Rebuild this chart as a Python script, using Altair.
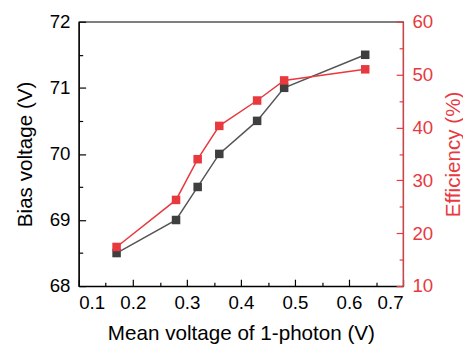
import altair as alt
import pandas as pd

mean_voltage = [0.17, 0.28, 0.32, 0.36, 0.43, 0.48, 0.63]
bias_voltage = [68.5, 69.0, 69.5, 70.0, 70.5, 71.0, 71.5]
efficiency = [17.4, 26.3, 34.0, 40.3, 45.1, 48.9, 51.0]

x_major = [0.1, 0.2, 0.3, 0.4, 0.5, 0.6, 0.7]
x_minor = [0.15, 0.25, 0.35, 0.45, 0.55, 0.65]
yl_major = [68, 69, 70, 71, 72]
yl_minor = [68.5, 69.5, 70.5, 71.5]
yr_major = [10, 20, 30, 40, 50, 60]
yr_minor = [15, 25, 35, 45, 55]

df = pd.DataFrame({"x": mean_voltage, "bias": bias_voltage, "eff": efficiency})

GRAY = "#3f3f3f"
GRAYLINE = "#555555"
RED = "#e8393f"
FONT = "Liberation Sans"

xs = alt.Scale(domain=[0.1, 0.7], nice=False, zero=False)
yls = alt.Scale(domain=[68, 72], nice=False, zero=False)
yrs = alt.Scale(domain=[10, 60], nice=False, zero=False)

base = alt.Chart(df)

x_main = alt.X("x:Q", scale=xs, axis=alt.Axis(
    orient="bottom", values=x_major, format=".1f", ticks=False, grid=False,
    domain=True, domainColor="#000000", domainWidth=1.2,
    labelFont=FONT, labelFontSize=19, labelColor="#000000", labelPadding=8,
    title="Mean voltage of 1-photon (V)", titleFont=FONT, titleFontSize=21,
    titleFontWeight="normal", titleColor="#000000", titlePadding=10))

yl_main = alt.Y("bias:Q", scale=yls, axis=alt.Axis(
    orient="left", values=yl_major, format="d", ticks=False, grid=False,
    domain=True, domainColor="#000000", domainWidth=1.2,
    labelFont=FONT, labelFontSize=19, labelColor="#000000", labelPadding=9,
    title="Bias voltage (V)", titleFont=FONT, titleFontSize=21,
    titleFontWeight="normal", titleColor="#000000", titlePadding=14))

gray_line = base.mark_line(color=GRAYLINE, strokeWidth=1.5).encode(x=x_main, y=yl_main)
gray_pts = base.mark_point(shape="square", filled=True, size=75, color=GRAY, opacity=1).encode(
    x=alt.X("x:Q", scale=xs, axis=None), y=alt.Y("bias:Q", scale=yls, axis=None))

yr_main = alt.Y("eff:Q", scale=yrs, axis=alt.Axis(
    orient="right", values=yr_major, format="d", ticks=False, grid=False,
    domain=True, domainColor=RED, domainWidth=1.2,
    labelFont=FONT, labelFontSize=19, labelColor=RED, labelPadding=9,
    title="Efficiency (%)", titleFont=FONT, titleFontSize=21, titleAngle=270,
    titleBaseline="top",
    titleFontWeight="normal", titleColor=RED, titlePadding=10))

red_line = base.mark_line(color=RED, strokeWidth=1.5).encode(
    x=alt.X("x:Q", scale=xs, axis=None), y=yr_main)
red_pts = base.mark_point(shape="square", filled=True, size=75, color=RED, opacity=1).encode(
    x=alt.X("x:Q", scale=xs, axis=None), y=alt.Y("eff:Q", scale=yrs, axis=None))


def tick_axis(orient, values, size, color):
    return alt.Axis(orient=orient, values=values, ticks=True, tickSize=size,
                    tickColor=color, tickWidth=1.2, offset=-size, labels=False,
                    domain=False, grid=False, title=None)


def tick_layer(xvals, xsize, yfield, yscale, yorient, yvals, ysize, color):
    if xvals:
        xenc = alt.X("x:Q", scale=xs, axis=tick_axis("bottom", xvals, xsize, "#000000"))
    else:
        xenc = alt.X("x:Q", scale=xs, axis=None)
    return base.mark_point(opacity=0).encode(
        x=xenc,
        y=alt.Y(f"{yfield}:Q", scale=yscale, axis=tick_axis(yorient, yvals, ysize, color)))


t1 = tick_layer(x_major, 7, "bias", yls, "left", yl_major, 7, "#000000")
t2 = tick_layer(x_minor, 4, "bias", yls, "left", yl_minor, 4, "#000000")
t3 = tick_layer(None, 0, "eff", yrs, "right", yr_major, 7, RED)
t4 = tick_layer(None, 0, "eff", yrs, "right", yr_minor, 4, RED)

chart = alt.layer(gray_line, gray_pts, red_line, red_pts, t1, t2, t3, t4).resolve_scale(
    x="independent", y="independent"
).properties(
    width=330, height=269,
    autosize=alt.AutoSizeParams(type="none"),
    padding={"left": 72, "top": 11, "right": 61, "bottom": 59},
    background="white",
).configure_view(stroke="#000000", strokeWidth=1.2)

chart.save("out.html", embed_options={"renderer": "svg", "actions": False})
